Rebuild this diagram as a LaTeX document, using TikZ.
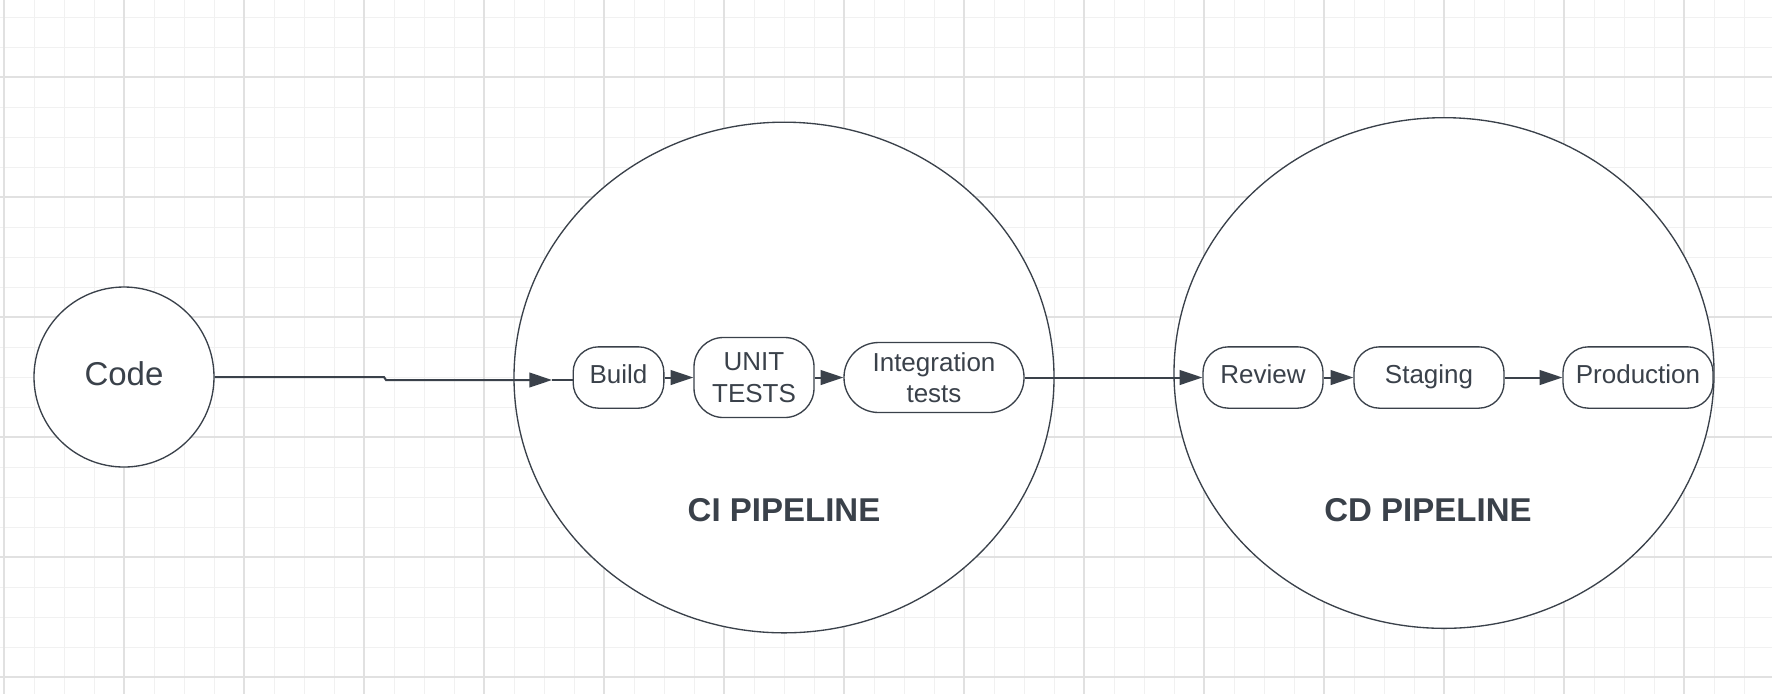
\documentclass[tikz,border=0pt]{standalone}
\usepackage{fontspec}
\setmainfont{Liberation Sans}
\usepackage{xcolor}
\usetikzlibrary{arrows.meta,shapes.geometric,positioning,calc}

\definecolor{ink}{RGB}{58,65,74}
\definecolor{gridminor}{RGB}{241,241,241}
\definecolor{gridmajor}{RGB}{225,225,225}

\begin{document}
\begin{tikzpicture}[x=0.75pt,y=-0.75pt,
        stage/.style={draw=ink,line width=1pt,fill=white,rounded corners=19pt,inner sep=0pt,
            minimum height=46pt,align=center,text=ink,font=\fontsize{19.5pt}{23.7pt}\selectfont},
        pipe/.style={draw=ink,line width=1pt,fill=white,ellipse,inner sep=0pt,
            minimum width=405pt,minimum height=383pt},
        pipelabel/.style={text=ink,font=\fontsize{24.75pt}{29pt}\selectfont\bfseries},
        link/.style={draw=ink,line width=1.5pt,-{Triangle[length=17pt,width=11pt]}}]
        \useasboundingbox (0,0) rectangle (1772,694);
        \fill[white] (0,0) rectangle (1772,694);

        % Background grid
        \foreach \gx in {4,34,...,1774} \draw[gridminor,line width=0.75pt] (\gx,0) -- (\gx,694);
        \foreach \gy in {17,47,...,694} \draw[gridminor,line width=0.75pt] (0,\gy) -- (1772,\gy);
        \foreach \gx in {4,124,...,1774} \draw[gridmajor,line width=1pt] (\gx,0) -- (\gx,694);
        \foreach \gy in {77,197,...,694} \draw[gridmajor,line width=1pt] (0,\gy) -- (1772,\gy);

        % Source
        \node[draw=ink,line width=1pt,fill=white,circle,inner sep=0pt,minimum size=135pt,
            text=ink,font=\fontsize{24.75pt}{29pt}\selectfont] (code) at (124,377) {\raisebox{4.5pt}{Code}};

        % Pipelines
        \node[pipe] (ci) at (784,377.5) {};
        \node[pipe] (cd) at (1444,373) {};
        \node[pipelabel] (cilabel) at (784,510) {CI PIPELINE};
        \node[pipelabel] (cdlabel) at (1428,510) {CD PIPELINE};

        % CI stages
        \node[stage,minimum width=68pt] (build) at (618.5,377.5) {\raisebox{4.5pt}{Build}};
        \node[stage,minimum width=90pt,minimum height=60pt,rounded corners=22pt] (unit) at (754,377.5) {UNIT\\TESTS};
        \node[stage,minimum width=135pt,minimum height=52.5pt,rounded corners=26pt] (integ) at (934,377.5) {Integration\\tests};

        % CD stages
        \node[stage,minimum width=90pt] (review) at (1263,377.5) {\raisebox{4.5pt}{Review}};
        \node[stage,minimum width=112.5pt] (staging) at (1429,377.5) {\raisebox{4.5pt}{Staging}};
        \node[stage,minimum width=112.5pt] (prod) at (1638,377.5) {\raisebox{4.5pt}{Production}};

        % Arrows
        \coordinate (jog) at (386,380);
        \coordinate (citip) at (552,380);
        \draw[link] (code.east) -- (384,377) -- (jog) -- (citip);
        \draw[ink,line width=1.5pt] (citip) -- (build.west |- citip);
        \draw[link] (build) -- (unit);
        \draw[link] (unit) -- (integ);
        \draw[link] (integ) -- (review);
        \draw[link] (review) -- (staging);
        \draw[link] (staging) -- (prod);
    \end{tikzpicture}
\end{document}
